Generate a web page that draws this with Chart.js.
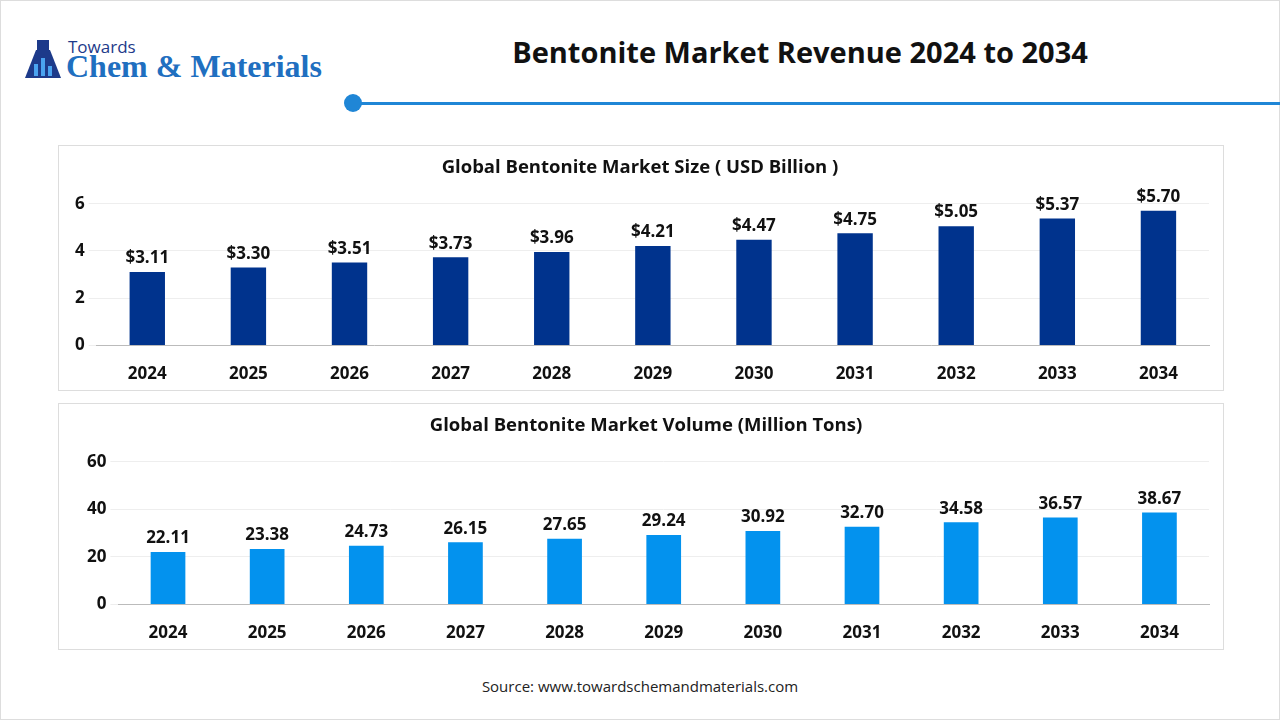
<!DOCTYPE html>
<html><head><meta charset="utf-8">
<script src="https://cdn.jsdelivr.net/npm/chart.js"></script>
<style>
body{margin:0;width:1280px;height:720px;background:#fff;font-family:"Open Sans",sans-serif;position:relative;overflow:hidden}
.frame{position:absolute;left:0;top:0;width:1278px;height:718px;border:1px solid #ddd}
.panel{position:absolute;left:58px;width:1164px;border:1px solid #ddd;background:#fff}
#title{position:absolute;left:430px;width:740px;top:32px;text-align:center;font:bold 29px "Open Sans",sans-serif;color:#111}
#line{position:absolute;left:353px;top:102px;width:927px;height:3px;background:#1f86d6}
#dot{position:absolute;left:344px;top:94px;width:18px;height:18px;border-radius:50%;background:#1f86d6}
#src{position:absolute;top:676px;left:0;width:1280px;text-align:center;font:15px "Open Sans",sans-serif;color:#222}
#logo1{position:absolute;left:68px;top:35px;font:17px "Open Sans",sans-serif;color:#1d3a8a}
#logo2{position:absolute;left:66px;top:48px;font:bold 32px "Liberation Serif",serif;color:#1f6fc0}
#flask{position:absolute;left:24px;top:38px;width:38px;height:42px}
</style></head><body>
<div class="frame"></div>
<svg id="flask" viewBox="0 0 38 42"><rect x="13" y="2" width="12" height="10" fill="#1d3a8a"/><path d="M12 12 L26 12 L37 40 L1 40 Z" fill="#1d3a8a"/><rect x="10" y="26" width="4" height="12" fill="#4aa3f0"/><rect x="17" y="20" width="4" height="18" fill="#4aa3f0"/><rect x="24" y="28" width="4" height="10" fill="#4aa3f0"/></svg>
<div id="logo1">Towards</div>
<div id="logo2">Chem &amp; Materials</div>
<div id="title">Bentonite Market Revenue 2024 to 2034</div>
<div id="line"></div><div id="dot"></div>
<div class="panel" style="top:145px;height:244px"><canvas id="c1" width="1164" height="244"></canvas></div>
<div class="panel" style="top:403px;height:245px"><canvas id="c2" width="1164" height="245"></canvas></div>
<div id="src">Source: www.towardschemandmaterials.com</div>
<script>
const years=["2024","2025","2026","2027","2028","2029","2030","2031","2032","2033","2034"];
const revenue=[3.11,3.30,3.51,3.73,3.96,4.21,4.47,4.75,5.05,5.37,5.70];
const volume=[22.11,23.38,24.73,26.15,27.65,29.24,30.92,32.70,34.58,36.57,38.67];
const revTicks=[0,2,4,6];
const volTicks=[0,20,40,60];
const fmts={c1:v=>'$'+v.toFixed(2),c2:v=>v.toFixed(2)};
const labelPlugin={id:'lbl',afterDatasetsDraw(ch){const ctx=ch.ctx;const meta=ch.getDatasetMeta(0);const fmt=fmts[ch.canvas.id];ctx.save();ctx.font='bold 17px "Open Sans",sans-serif';ctx.fillStyle='#111';ctx.textAlign='center';ctx.textBaseline='bottom';meta.data.forEach((b,i)=>ctx.fillText(fmt(ch.data.datasets[0].data[i]),b.x,b.y-5));ctx.restore();}};
function make(id,data,color,title,max,ticks,lp){
new Chart(document.getElementById(id),{type:'bar',data:{labels:years,datasets:[{data:data,backgroundColor:color,barPercentage:0.35,categoryPercentage:1}]},
plugins:[labelPlugin],
options:{responsive:false,animation:false,layout:{padding:{left:lp,right:14,bottom:-4,top:0}},
plugins:{legend:{display:false},tooltip:{enabled:false},title:{display:true,text:title,color:'#111',font:{size:18.5,weight:'bold',family:'"Open Sans",sans-serif'},padding:{top:11,bottom:15}}},
scales:{x:{grid:{display:false},border:{color:'#bbb'},ticks:{color:'#111',padding:10,font:{size:17,weight:'bold',family:'"Open Sans",sans-serif'}}},
y:{min:0,max:max,afterBuildTicks(a){a.ticks=ticks.map(v=>({value:v}));},border:{display:false},grid:{color:'#eee'},ticks:{color:'#111',padding:4,font:{size:17,weight:'bold',family:'"Open Sans",sans-serif'}}}}}});
}
make('c1',revenue,'#00338d','Global Bentonite Market Size ( USD Billion )',6.4,revTicks,12);
make('c2',volume,'#0392ee','Global Bentonite Market Volume (Million Tons)',64,volTicks,24);
</script></body></html>
